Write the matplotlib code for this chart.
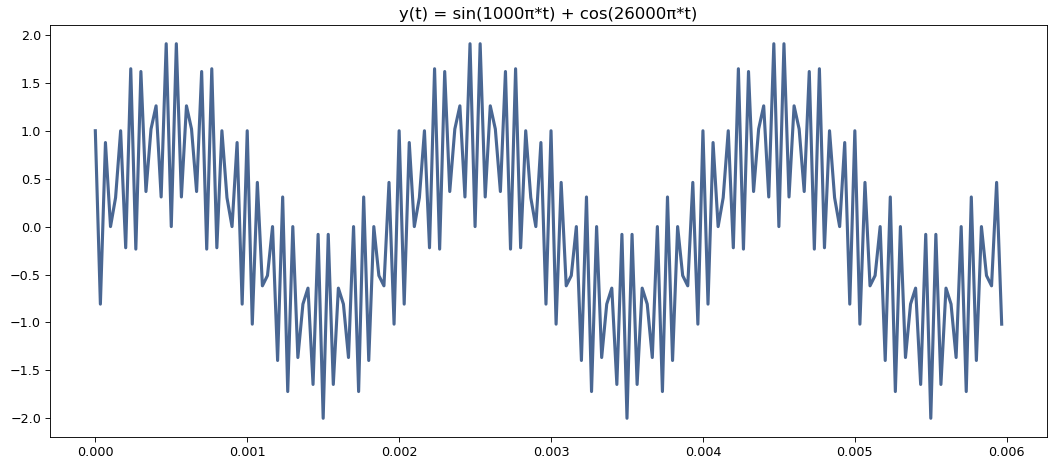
import numpy as np
import matplotlib
matplotlib.use("Agg")
import matplotlib.pyplot as plt

sample_rate = 30000  # samples per second
n_samples = 180

# y values (one period of 60 samples, repeated 3 times in the plot)
y_values = [
    1.0, -0.809, 0.877, 0.0, 0.302, 1.0, -0.221, 1.647, -0.235, 1.618,
    0.366, 1.018, 1.260, 0.309, 1.908, 0.0, 1.908, 0.309, 1.260, 1.018,
    0.366, 1.618, -0.235, 1.647, -0.221, 1.0, 0.302, 0.0, 0.877, -0.809,
    1.0, -1.018, 0.461, -0.618, -0.511, 0.0, -1.397, 0.309, -1.721, 0.0,
    -1.366, -0.809, -0.642, -1.647, -0.081, -2.0, -0.081, -1.647, -0.642, -0.809,
    -1.366, 0.0, -1.721, 0.309, -1.397, 0.0, -0.511, -0.618, 0.461, -1.018,
    1.0, -0.809, 0.877, 0.0, 0.302, 1.0, -0.221, 1.647, -0.235, 1.618,
    0.366, 1.018, 1.260, 0.309, 1.908, 0.0, 1.908, 0.309, 1.260, 1.018,
    0.366, 1.618, -0.235, 1.647, -0.221, 1.0, 0.302, 0.0, 0.877, -0.809,
    1.0, -1.018, 0.461, -0.618, -0.511, 0.0, -1.397, 0.309, -1.721, 0.0,
    -1.366, -0.809, -0.642, -1.647, -0.081, -2.0, -0.081, -1.647, -0.642, -0.809,
    -1.366, 0.0, -1.721, 0.309, -1.397, 0.0, -0.511, -0.618, 0.461, -1.018,
    1.0, -0.809, 0.877, 0.0, 0.302, 1.0, -0.221, 1.647, -0.235, 1.618,
    0.366, 1.018, 1.260, 0.309, 1.908, 0.0, 1.908, 0.309, 1.260, 1.018,
    0.366, 1.618, -0.235, 1.647, -0.221, 1.0, 0.302, 0.0, 0.877, -0.809,
    1.0, -1.018, 0.461, -0.618, -0.511, 0.0, -1.397, 0.309, -1.721, 0.0,
    -1.366, -0.809, -0.642, -1.647, -0.081, -2.0, -0.081, -1.647, -0.642, -0.809,
    -1.366, 0.0, -1.721, 0.309, -1.397, 0.0, -0.511, -0.618, 0.461, -1.018,
]
t_values = np.arange(n_samples) / sample_rate

title_text = "y(t) = sin(1000\u03c0*t) + cos(26000\u03c0*t)"

fig = plt.figure(figsize=(1057 / 80, 472 / 80), dpi=80)
ax = fig.add_axes([50 / 1057, 1 - 437 / 472, (1047 - 50) / 1057, (437 - 25) / 472])
ax.plot(t_values, y_values, color="#4a6793", linewidth=2.8)
ax.set_title(title_text, fontsize=14.8, pad=5)
ax.set_yticks([-2.0, -1.5, -1.0, -0.5, 0.0, 0.5, 1.0, 1.5, 2.0])
ax.set_xticks([0.0, 0.001, 0.002, 0.003, 0.004, 0.005, 0.006])
ax.set_xticklabels(["0.000", "0.001", "0.002", "0.003", "0.004", "0.005", "0.006"])
ax.tick_params(labelsize=11.5, length=4.5)
fig.savefig("out.png", dpi=80)
